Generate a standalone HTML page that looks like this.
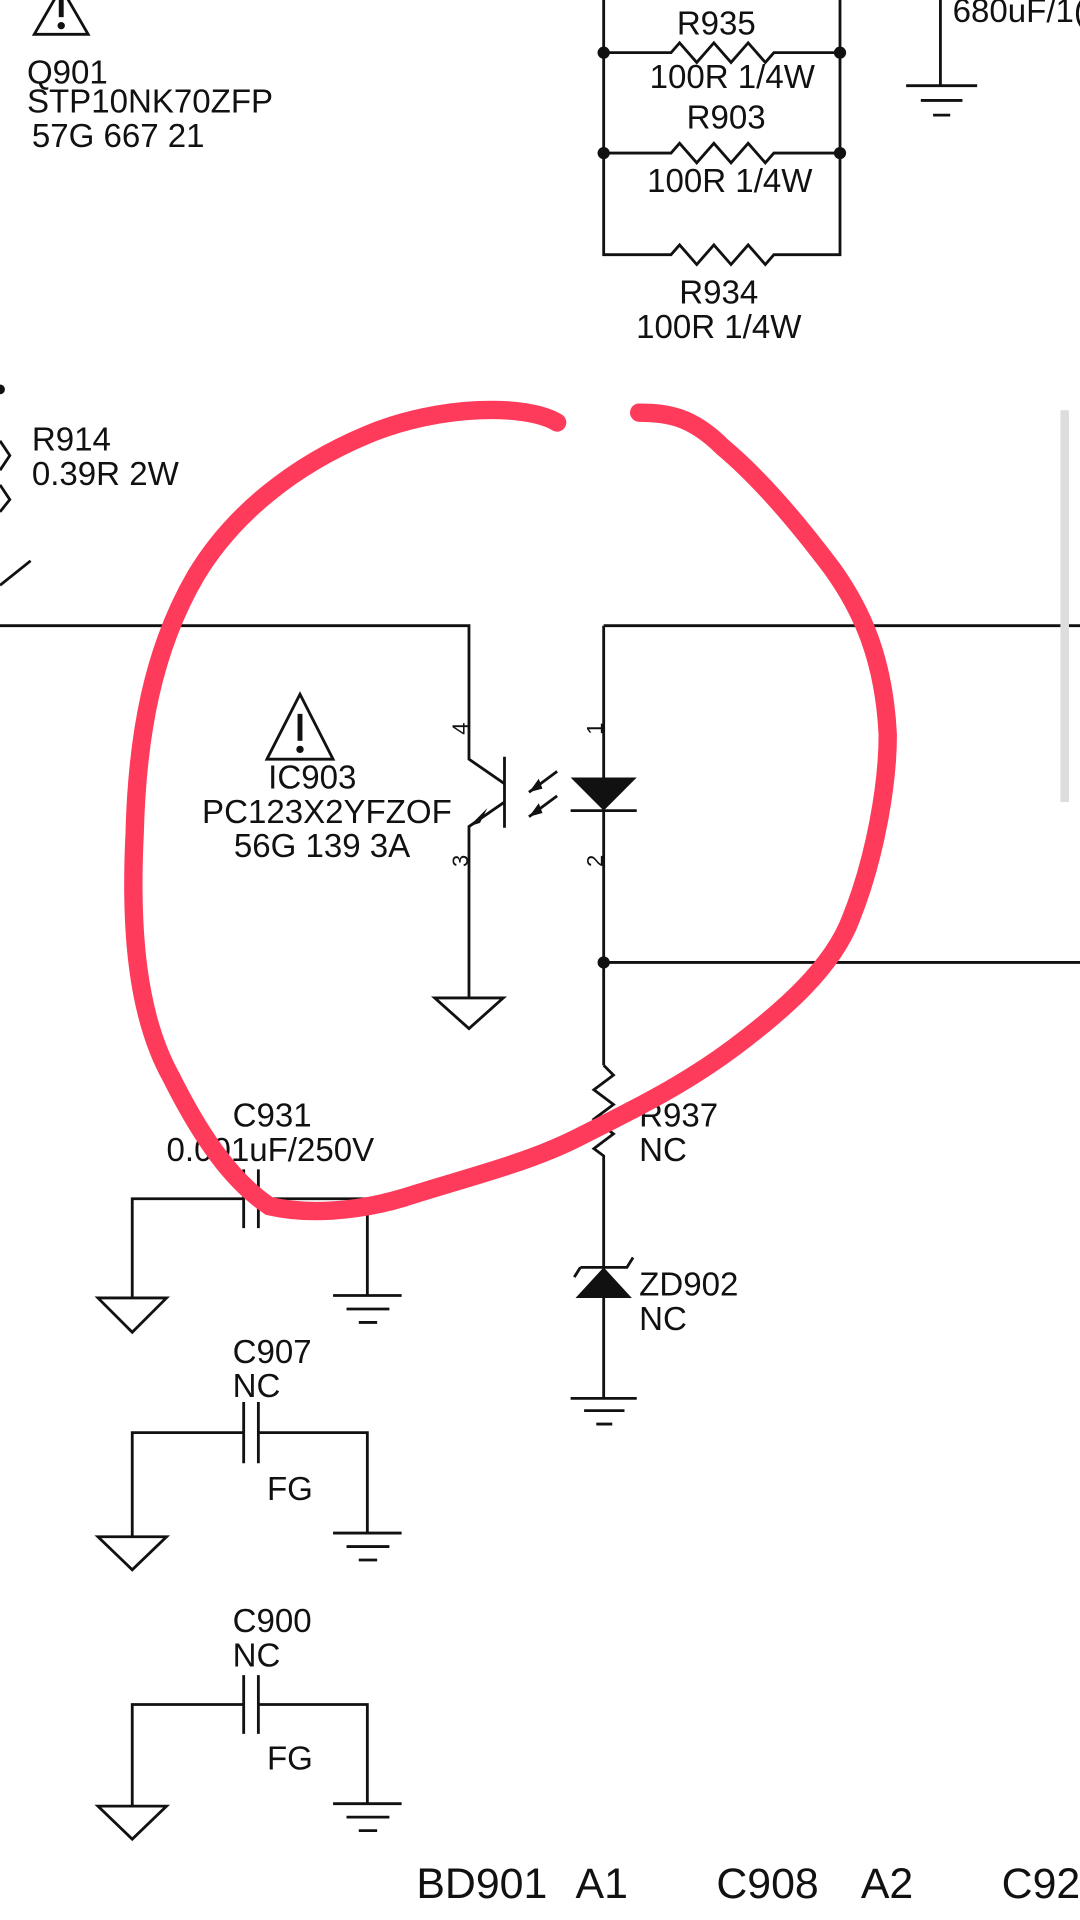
<!DOCTYPE html>
<html><head><meta charset="utf-8"><style>
html,body{margin:0;padding:0;background:#fff;}
svg{display:block;}
text{font-family:"Liberation Sans",sans-serif;fill:#111;}
</style></head><body>
<svg width="1080" height="1920" viewBox="0 0 882 1568" xmlns="http://www.w3.org/2000/svg">
<rect width="882" height="1568" fill="#fff"/>
<g stroke="#111" stroke-width="2.3" fill="none">
<path d="M28 28 L50 -10 L72 28 Z"/>
<path d="M493 0 V208 H548 l7 -8 l14 16 l14 -16 l14 16 l14 -16 l14 16 l7 -8 H686 V0"/>
<path d="M493 43 H548 l7 -8 l14 16 l14 -16 l14 16 l14 -16 l14 16 l7 -8 H686"/>
<path d="M493 125 H548 l7 -8 l14 16 l14 -16 l14 16 l14 -16 l14 16 l7 -8 H686"/>
<path d="M768 0 V70 M740 70 H798 M752 82 H786 M762 94 H776"/>
<path d="M0 360 L8 372 L0 384 M0 396 L8 408 L0 418 M0 478 L25 458"/>
<path d="M0 511 H383 V620 L412 640 M412 618 V676 M412 655 L383 675 V815 M355 815 H411 L383 840 Z"/>
<path d="M455 630 L432 647 M455 650 L432 667"/>
<path d="M493 511 H882 M493 511 V870 M493 786 H882"/>
<path d="M466 662 H520"/>
<path d="M493 870 l8 8 l-16 12 l16 12 l-16 12 l16 12 l-16 12 l8 6 V1035"/>
<path d="M493 1060 V1142 M466 1142 H520 M477 1152 H510 M487 1163 H500"/>
<path d="M474 1035 H512 l5 -8 M474 1035 l-5 8"/>
<path d="M108 1060 V979 H199 M199 955 V1003 M211 955 V1003 M211 979 H300 V1058 M272 1058 H328 M283 1069 H318 M293 1080 H308 M80 1060 H136 L108 1088 Z"/>
<path d="M108 1255 V1170 H199 M199 1145 V1195 M211 1145 V1195 M211 1170 H300 V1252 M272 1252 H328 M283 1263 H318 M293 1274 H308 M80 1255 H136 L108 1282 Z"/>
<path d="M108 1475 V1392 H199 M199 1368 V1416 M211 1368 V1416 M211 1392 H300 V1473 M272 1473 H328 M283 1484 H318 M293 1495 H308 M80 1475 H136 L108 1502 Z"/>
<path d="M218 620 L245 567 L272 620 Z"/>
</g>
<g fill="#111">
<circle cx="0" cy="318" r="4"/>
<circle cx="493" cy="43" r="5"/><circle cx="686" cy="43" r="5"/>
<circle cx="493" cy="125" r="5"/><circle cx="686" cy="125" r="5"/>
<circle cx="493" cy="786" r="5"/>
<path d="M466 635 H520 L493 662 Z"/>
<path d="M493 1035 L516 1060 H470 Z"/>
<path d="M383 675 L398 660 L392 672 Z"/>
<path d="M432 647 L440 636 L443 644 Z M432 667 L440 656 L443 664 Z"/>
<rect x="243" y="583" width="4" height="22"/><circle cx="245" cy="612" r="3"/>
<rect x="48" y="0" width="4" height="14"/><circle cx="50" cy="21" r="3"/>
</g>
<rect x="866" y="335" width="7" height="320" fill="#ddd"/>
<g font-size="27">
<text x="22" y="68">Q901</text>
<text x="22" y="92">STP10NK70ZFP</text>
<text x="26" y="120">57G 667 21</text>
<g text-anchor="middle">
<text x="585" y="28">R935</text>
<text x="598" y="72">100R 1/4W</text>
<text x="593" y="105">R903</text>
<text x="596" y="157">100R 1/4W</text>
<text x="587" y="248">R934</text>
<text x="587" y="276">100R 1/4W</text>
<text x="255" y="644">IC903</text>
<text x="267" y="672">PC123X2YFZOF</text>
<text x="263" y="700">56G 139 3A</text>
</g>
<text x="778" y="18">680uF/1(</text>
<text x="26" y="368">R914</text>
<text x="26" y="396">0.39R 2W</text>
<text x="522" y="920">R937</text>
<text x="522" y="948">NC</text>
<text x="522" y="1058">ZD902</text>
<text x="522" y="1086">NC</text>
<text x="190" y="920">C931</text>
<text x="136" y="948">0.001uF/250V</text>
<text x="190" y="1113">C907</text>
<text x="190" y="1141">NC</text>
<text x="218" y="1225">FG</text>
<text x="190" y="1333">C900</text>
<text x="190" y="1361">NC</text>
<text x="218" y="1445">FG</text>
</g>
<g font-size="18">
<text transform="translate(382,600) rotate(-90)">4</text>
<text transform="translate(382,708) rotate(-90)">3</text>
<text transform="translate(492,600) rotate(-90)">1</text>
<text transform="translate(492,708) rotate(-90)">2</text>
</g>
<g font-size="35">
<text x="340" y="1550">BD901</text>
<text x="470" y="1550">A1</text>
<text x="585" y="1550">C908</text>
<text x="703" y="1550">A2</text>
<text x="818" y="1550">C92</text>
</g>
<path d="M455 345 C430 330 360 330 300 355 C240 380 190 420 160 470 C125 530 112 600 110 680 C106 760 112 830 140 880 C165 930 190 965 220 985 C250 992 290 990 330 978 C380 962 430 950 470 930 C520 905 560 885 600 855 C640 825 680 790 695 750 C715 700 725 640 725 600 C722 540 705 500 680 465 C650 425 620 390 590 365 C565 340 545 337 522 337" stroke="#ff3b5c" stroke-width="15" fill="none" stroke-linecap="round"/>
</svg>
</body></html>
